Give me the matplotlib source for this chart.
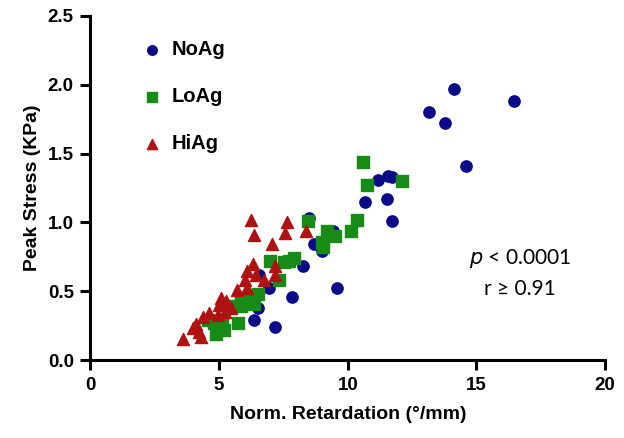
import numpy as np
import matplotlib.pyplot as plt

plt.rcParams['font.family'] = ['Liberation Sans', 'DejaVu Sans']

# NoAg - niebieskie kółka
noag_x = [14.12, 13.15, 13.77, 16.46, 14.59, 11.17, 11.56, 11.73, 10.67, 11.52,
          11.71, 8.51, 9.42, 8.67, 9.01, 8.25, 9.58, 6.56, 6.95, 7.84,
          6.50, 6.34, 7.18, 4.72]
noag_y = [1.97, 1.80, 1.72, 1.88, 1.41, 1.31, 1.34, 1.33, 1.15, 1.17,
          1.01, 1.03, 0.94, 0.84, 0.79, 0.68, 0.52, 0.62, 0.52, 0.455,
          0.375, 0.29, 0.24, 0.29]

# LoAg - zielone kwadraty
loag_x = [10.58, 10.73, 12.10, 8.46, 10.34, 10.14, 9.21, 9.52, 9.01, 9.05,
          7.93, 7.70, 7.54, 6.99, 7.34, 6.50, 6.17, 6.37, 5.85, 5.85,
          5.55, 5.72, 5.13, 4.81, 4.55, 5.20, 4.88]
loag_y = [1.44, 1.27, 1.30, 1.01, 1.02, 0.94, 0.94, 0.90, 0.86, 0.82,
          0.74, 0.72, 0.71, 0.72, 0.58, 0.48, 0.435, 0.41, 0.45, 0.39,
          0.39, 0.27, 0.29, 0.27, 0.29, 0.22, 0.19]

# HiAg - czerwone trójkąty
hiag_x = [6.24, 7.63, 6.36, 7.57, 8.37, 7.06, 6.30, 7.16, 6.07, 6.44,
          7.19, 5.99, 6.73, 5.70, 6.07, 5.07, 5.27, 5.01, 5.46, 5.21,
          4.62, 4.36, 4.94, 4.10, 3.97, 4.20, 4.29, 3.60]
hiag_y = [1.02, 1.00, 0.905, 0.92, 0.94, 0.84, 0.70, 0.68, 0.65, 0.62,
          0.62, 0.585, 0.58, 0.51, 0.52, 0.45, 0.43, 0.40, 0.38, 0.35,
          0.34, 0.31, 0.33, 0.26, 0.23, 0.205, 0.17, 0.15]

fig = plt.figure(figsize=(6.24, 4.38), dpi=100)
ax = fig.add_axes([0.1450, 0.178, 0.8246, 0.7855])

ax.scatter(noag_x, noag_y, s=66, marker='o', color='#0b0b8a', label='NoAg', zorder=3)
ax.scatter(loag_x, loag_y, s=66, marker='s', color='#168c16', label='LoAg', zorder=4)
ax.scatter(hiag_x, hiag_y, s=75, marker='^', color='#b01212', label='HiAg', zorder=5)

ax.set_xlim(0, 20)
ax.set_ylim(0, 2.5)
ax.set_xticks([0, 5, 10, 15, 20])
ax.set_yticks([0.0, 0.5, 1.0, 1.5, 2.0, 2.5])
ax.set_yticklabels(['0.0', '0.5', '1.0', '1.5', '2.0', '2.5'])

for s in ['top', 'right']:
    ax.spines[s].set_visible(False)
for s in ['left', 'bottom']:
    ax.spines[s].set_linewidth(2.2)
ax.tick_params(width=2.2, length=7, labelsize=13.5, pad=5)
for lab in ax.get_xticklabels() + ax.get_yticklabels():
    lab.set_fontweight('bold')

ax.set_xlabel('Norm. Retardation (°/mm)', fontsize=14, fontweight='bold', labelpad=9)
ax.set_ylabel('Peak Stress (KPa)', fontsize=14, fontweight='bold', labelpad=5)

leg = ax.legend(loc='upper left', bbox_to_anchor=(0.096, 0.93), frameon=False,
                markerscale=0.85, labelspacing=1.4, handlelength=1.2,
                handletextpad=0.4, borderpad=0, borderaxespad=0,
                prop={'weight': 'bold', 'size': 14.5})

ax.text(0.834, 0.2965, r'$\it{p}$ < 0.0001', transform=ax.transAxes,
        ha='center', va='center', fontsize=15, family='Lato')
ax.text(0.834, 0.206, 'r ≥ 0.91', transform=ax.transAxes,
        ha='center', va='center', fontsize=15, family='Lato')

fig.savefig('out.png', dpi=100)
